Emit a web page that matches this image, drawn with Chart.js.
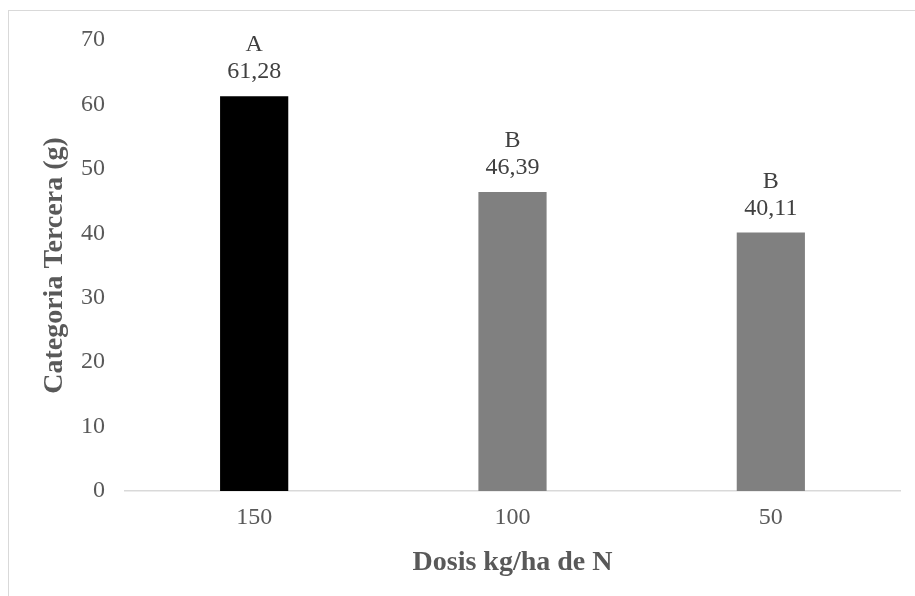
<!DOCTYPE html>
<html>
<head>
<meta charset="utf-8">
<script src="https://cdn.jsdelivr.net/npm/chart.js@4"></script>
<style>
  html, body { margin: 0; padding: 0; background: #fff; }
  #wrap { position: relative; width: 915px; height: 596px; overflow: hidden; }
  #frame { position: absolute; left: 8px; top: 10px; width: 1000px; height: 700px;
           border-left: 1.5px solid #d9d9d9; border-top: 1.5px solid #d9d9d9; }
  #chart { position: absolute; left: 0; top: 0; }
</style>
</head>
<body>
<div id="wrap">
  <div id="frame"></div>
  <canvas id="chart" width="915" height="596"></canvas>
</div>
<script>
// Data
const dosis = ['150', '100', '50'];
const tercera = [61.28, 46.39, 40.11];
const letras = ['A', 'B', 'B'];
const barColors = ['#000000', '#808080', '#808080'];

// Draw the letter and the value above every bar
const labelPlugin = {
  id: 'barLabels',
  afterDatasetsDraw(chart) {
    const ctx = chart.ctx;
    const meta = chart.getDatasetMeta(0);
    ctx.save();
    ctx.fillStyle = '#404040';
    ctx.font = '24px "Liberation Serif", "Times New Roman", serif';
    ctx.textAlign = 'center';
    ctx.textBaseline = 'middle';
    meta.data.forEach((bar, i) => {
      const valor = tercera[i].toFixed(2).replace('.', ',');
      ctx.fillText(valor, bar.x, bar.y - 24);
      ctx.fillText(letras[i], bar.x, bar.y - 51);
    });
    ctx.restore();
  }
};

Chart.defaults.font.family = '"Liberation Serif", "Times New Roman", serif';

const ctx = document.getElementById('chart').getContext('2d');
new Chart(ctx, {
  type: 'bar',
  data: {
    labels: dosis,
    datasets: [{
      data: tercera,
      backgroundColor: barColors,
      borderWidth: 0,
      barPercentage: 0.264,
      categoryPercentage: 1
    }]
  },
  options: {
    responsive: false,
    animation: false,
    layout: { padding: { top: 40, right: 15, bottom: 0, left: 0 } },
    plugins: {
      legend: { display: false },
      tooltip: { enabled: false }
    },
    scales: {
      x: {
        grid: { display: false, drawTicks: false },
        border: { display: true, color: '#d9d9d9', width: 1.5 },
        ticks: { color: '#595959', font: { size: 24 }, padding: 12 },
        title: {
          display: true,
          text: 'Dosis kg/ha de N',
          color: '#595959',
          font: { size: 28, weight: 'bold' },
          padding: { top: 0, bottom: 16 }
        },
        afterFit(scale) { scale.height = 105; }
      },
      y: {
        min: 0,
        max: 70,
        grid: { display: false, drawTicks: false },
        border: { display: false },
        ticks: { stepSize: 10, color: '#595959', font: { size: 24 }, padding: 20 },
        title: {
          display: true,
          text: 'Categoria Tercera (g)',
          color: '#595959',
          font: { size: 28, weight: 'bold' },
          padding: { top: 38, bottom: 0 }
        },
        afterFit(scale) { scale.width = 125; }
      }
    }
  },
  plugins: [labelPlugin]
});
</script>
</body>
</html>
